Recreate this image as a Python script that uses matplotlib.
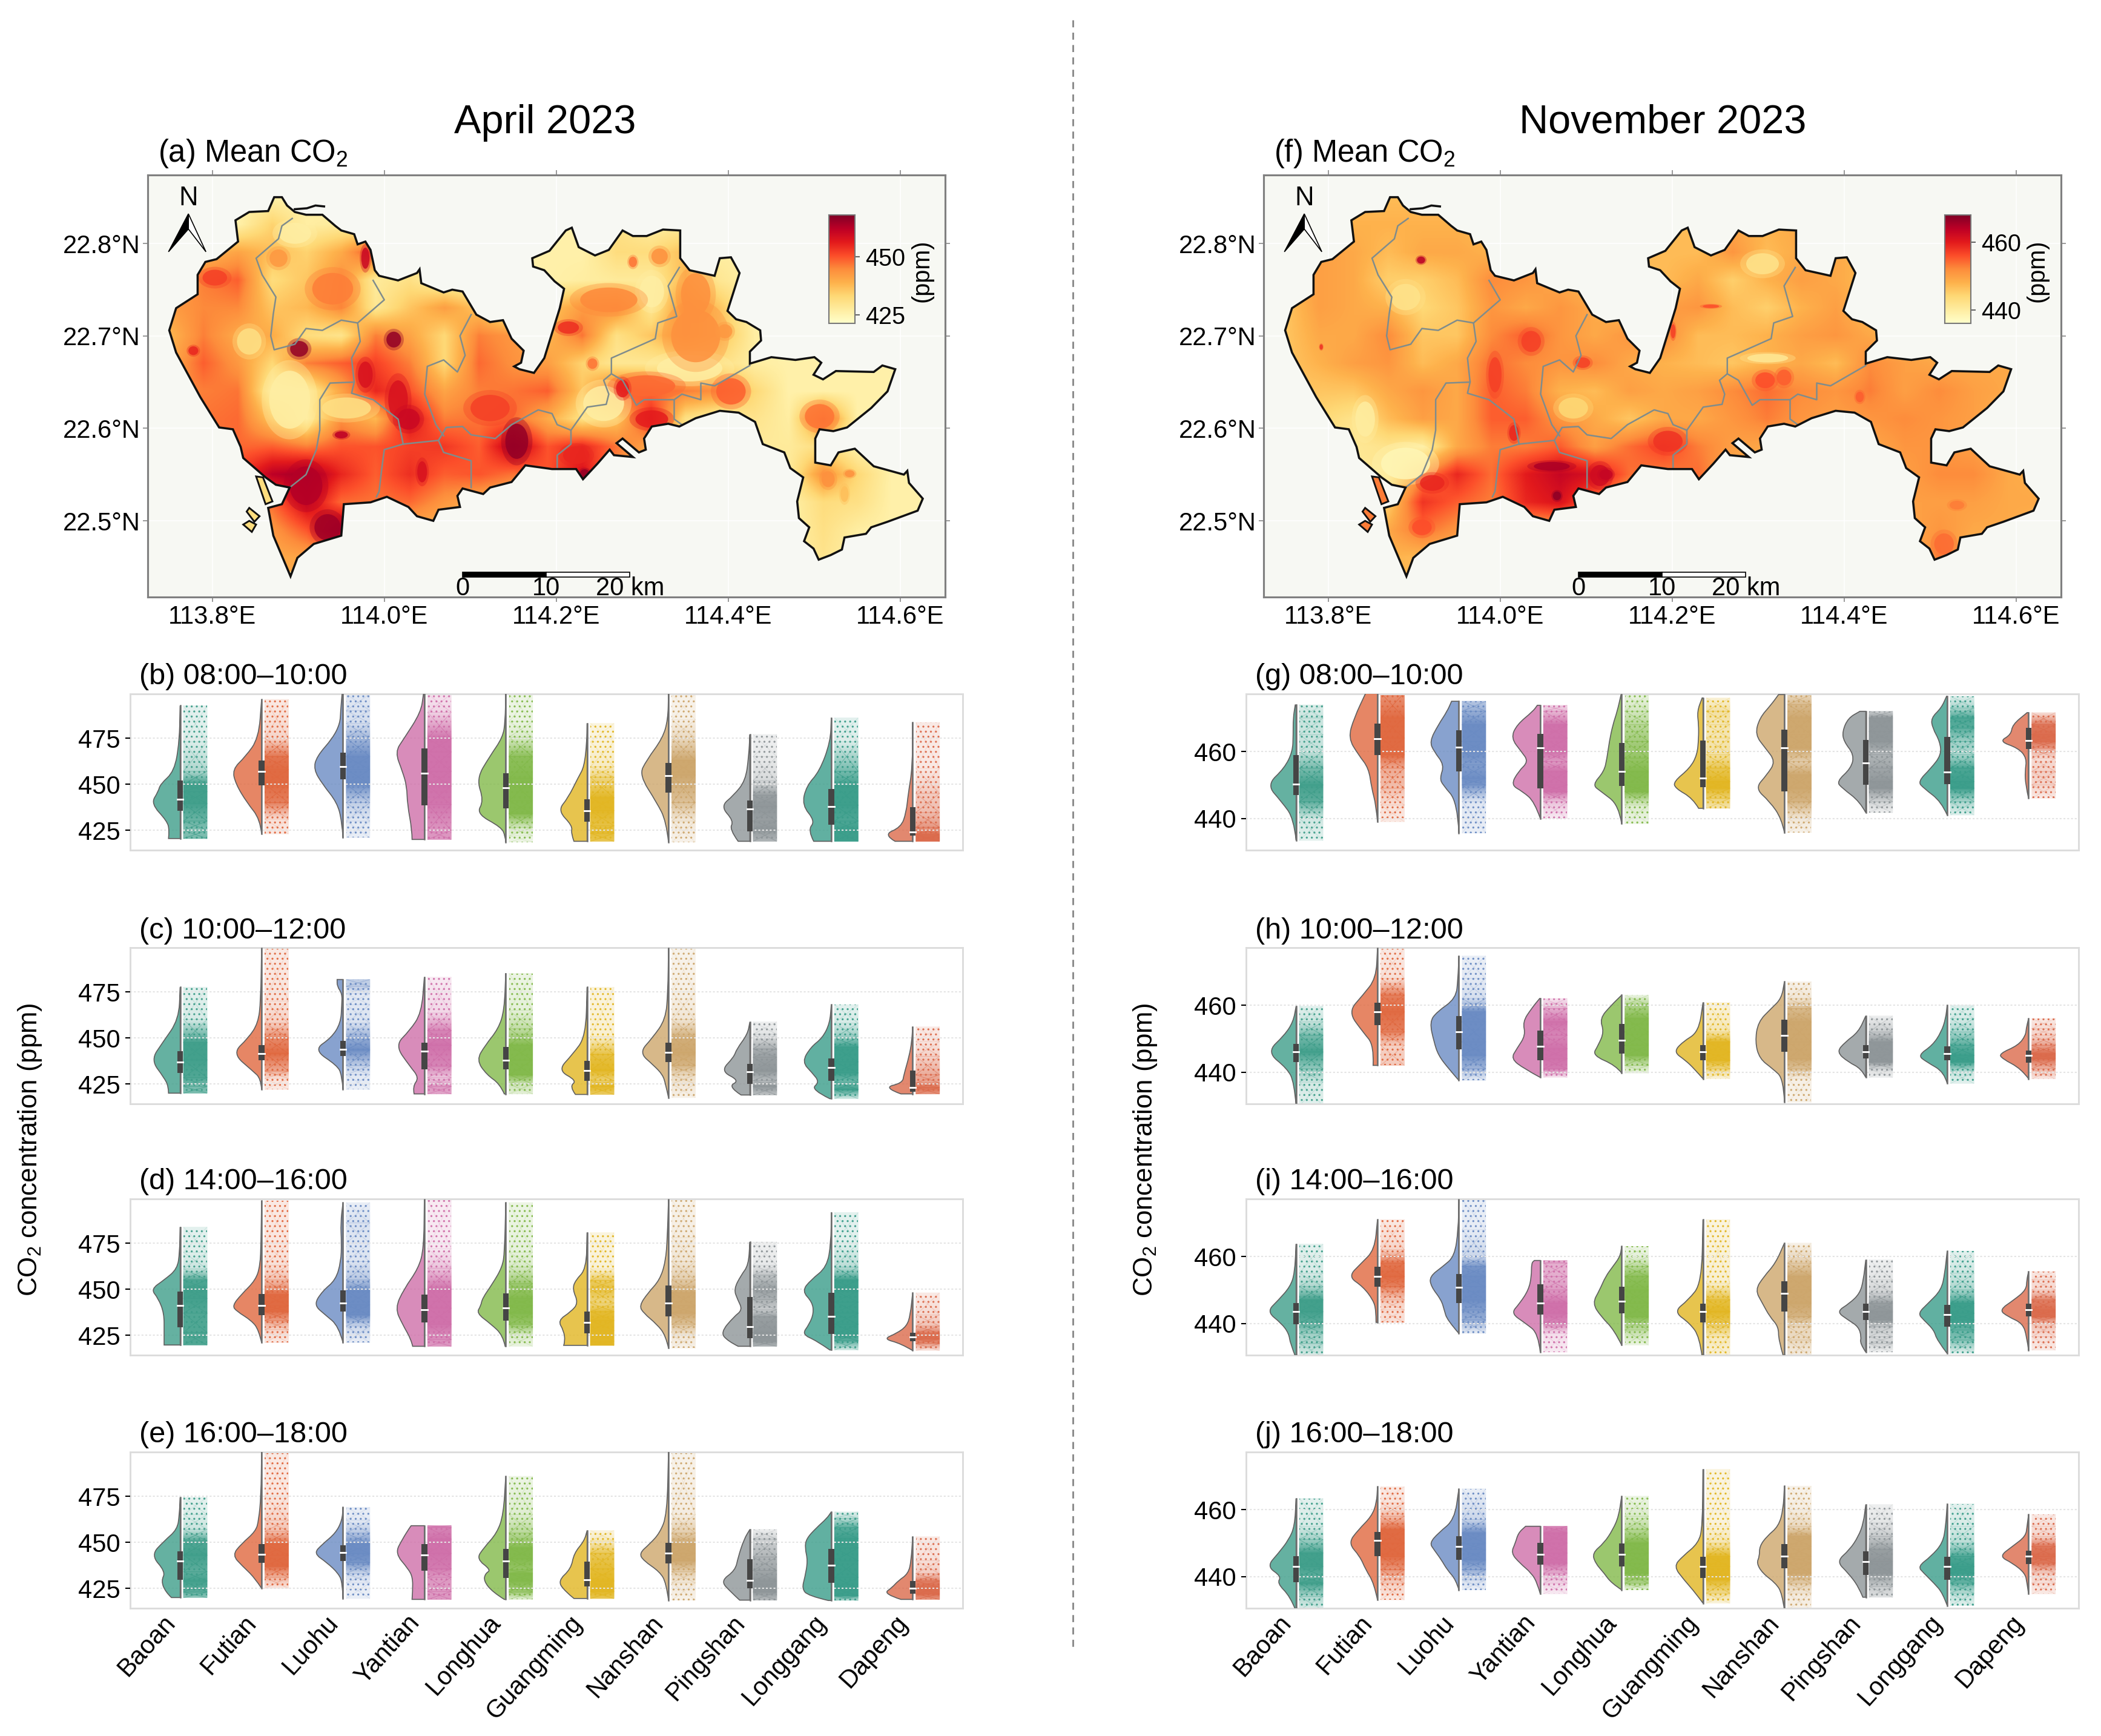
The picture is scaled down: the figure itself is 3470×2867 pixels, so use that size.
import numpy as np
import matplotlib
matplotlib.use('Agg')
import matplotlib.pyplot as plt
from matplotlib.colors import LinearSegmentedColormap, Normalize, to_rgba
from matplotlib.lines import Line2D
from matplotlib.patches import Ellipse, PathPatch, Polygon, Rectangle
from matplotlib.path import Path
from matplotlib.transforms import ScaledTranslation

plt.rcParams['font.family'] = ['Liberation Sans', 'DejaVu Sans']
plt.rcParams['mathtext.fontset'] = 'custom'
plt.rcParams['mathtext.rm'] = 'Liberation Sans'
plt.rcParams['mathtext.default'] = 'rm'
plt.rcParams['hatch.linewidth'] = 0.4

W, H = 3470, 2867

districts = ['Baoan', 'Futian', 'Luohu', 'Yantian', 'Longhua', 'Guangming',
             'Nanshan', 'Pingshan', 'Longgang', 'Dapeng']
district_colors = ['#3F9E8A', '#E0683F', '#6A8BC3', '#CF6FA9', '#82B94A',
                   '#E2B622', '#CDA66C', '#8E9598', '#3A9D8A', '#DB6A4B']

# Shenzhen outline, lon / lat
outline_lon = [113.872, 113.881, 113.887, 113.896, 113.909, 113.928, 113.943, 113.950, 113.965, 113.969, 113.978,
               113.984, 113.989, 113.994, 114.016, 114.038, 114.041, 114.043, 114.069, 114.079, 114.091, 114.107,
               114.123, 114.138, 114.148, 114.162, 114.159, 114.151, 114.157, 114.174, 114.186, 114.204, 114.209,
               114.198, 114.186, 114.173, 114.172, 114.192, 114.211, 114.218, 114.226, 114.245, 114.261, 114.277,
               114.289, 114.305, 114.324, 114.344, 114.344, 114.355, 114.384, 114.390, 114.403, 114.413, 114.399,
               114.409, 114.421, 114.437, 114.438, 114.425, 114.425, 114.450, 114.478, 114.500, 114.508, 114.499,
               114.510, 114.525, 114.569, 114.579, 114.594, 114.585, 114.566, 114.538, 114.522, 114.506, 114.501,
               114.501, 114.519, 114.528, 114.547, 114.569, 114.604, 114.608, 114.610, 114.626, 114.620, 114.585,
               114.566, 114.560, 114.535, 114.532, 114.519, 114.505, 114.499, 114.488, 114.494, 114.482, 114.480,
               114.487, 114.472, 114.465, 114.440, 114.431, 114.412, 114.390, 114.362, 114.343, 114.330, 114.311,
               114.302, 114.304, 114.296, 114.277, 114.270, 114.289, 114.267, 114.262, 114.248, 114.231, 114.223,
               114.195, 114.164, 114.148, 114.123, 114.115, 114.091, 114.085, 114.088, 114.063, 114.057, 114.038,
               114.028, 114.003, 113.984, 113.953, 113.950, 113.918, 113.899, 113.891, 113.871, 113.865, 113.881,
               113.890, 113.874, 113.862, 113.836, 113.833, 113.824, 113.808, 113.786, 113.758, 113.750, 113.758,
               113.783, 113.783, 113.792, 113.805, 113.830, 113.827, 113.843, 113.865]
outline_lat = [22.850, 22.850, 22.841, 22.834, 22.831, 22.831, 22.819, 22.814, 22.810, 22.799, 22.802,
               22.793, 22.771, 22.765, 22.760, 22.768, 22.772, 22.757, 22.747, 22.750, 22.748, 22.723,
               22.715, 22.717, 22.697, 22.684, 22.671, 22.667, 22.664, 22.660, 22.676, 22.730, 22.751,
               22.759, 22.771, 22.775, 22.784, 22.792, 22.814, 22.817, 22.796, 22.787, 22.793, 22.814,
               22.808, 22.808, 22.815, 22.814, 22.784, 22.771, 22.765, 22.784, 22.785, 22.768, 22.727,
               22.718, 22.715, 22.706, 22.695, 22.683, 22.670, 22.677, 22.674, 22.677, 22.671, 22.658,
               22.653, 22.662, 22.661, 22.668, 22.664, 22.640, 22.622, 22.601, 22.597, 22.599, 22.589,
               22.563, 22.560, 22.574, 22.578, 22.559, 22.550, 22.554, 22.541, 22.524, 22.511, 22.499,
               22.493, 22.486, 22.482, 22.469, 22.463, 22.458, 22.470, 22.478, 22.493, 22.503, 22.521,
               22.547, 22.557, 22.574, 22.583, 22.607, 22.617, 22.619, 22.611, 22.602, 22.605, 22.602,
               22.589, 22.577, 22.574, 22.589, 22.584, 22.569, 22.571, 22.577, 22.562, 22.545, 22.556,
               22.556, 22.560, 22.542, 22.536, 22.529, 22.535, 22.527, 22.515, 22.512, 22.500, 22.505,
               22.515, 22.526, 22.520, 22.518, 22.484, 22.475, 22.460, 22.440, 22.484, 22.514, 22.518,
               22.536, 22.539, 22.547, 22.568, 22.580, 22.599, 22.601, 22.634, 22.682, 22.706, 22.730,
               22.745, 22.766, 22.780, 22.783, 22.802, 22.825, 22.834, 22.835]

islands = [[(113.851, 22.548), (113.859, 22.547), (113.870, 22.521), (113.862, 22.518)],
           [(113.843, 22.514), (113.855, 22.505), (113.849, 22.499), (113.840, 22.510)],
           [(113.843, 22.500), (113.851, 22.496), (113.846, 22.488), (113.836, 22.496)]]
north_arc = [(113.896, 22.837), (113.910, 22.838), (113.920, 22.841), (113.930, 22.840)]

# district borders
borders = [
    [(113.893, 22.827), (113.881, 22.819), (113.877, 22.805), (113.851, 22.784), (113.858, 22.766), (113.874, 22.742),
     (113.871, 22.724), (113.868, 22.700), (113.872, 22.685), (113.896, 22.691), (113.909, 22.708), (113.928, 22.706),
     (113.950, 22.717), (113.969, 22.714), (114.000, 22.739), (113.987, 22.760)],
    [(113.969, 22.714), (113.972, 22.694), (113.962, 22.676), (113.965, 22.650), (113.937, 22.649), (113.925, 22.631),
     (113.925, 22.598), (113.921, 22.577), (113.909, 22.550), (113.890, 22.536)],
    [(113.965, 22.650), (113.962, 22.638), (113.987, 22.631), (114.016, 22.610), (114.022, 22.583)],
    [(114.022, 22.583), (114.063, 22.587), (114.069, 22.574), (114.101, 22.565), (114.101, 22.536)],
    [(114.022, 22.583), (114.000, 22.577), (113.997, 22.556), (113.994, 22.532), (113.991, 22.526)],
    [(114.063, 22.587), (114.072, 22.601), (114.091, 22.602), (114.101, 22.593), (114.129, 22.589), (114.148, 22.604),
     (114.179, 22.620), (114.195, 22.616), (114.201, 22.604), (114.217, 22.598), (114.217, 22.583), (114.201, 22.571),
     (114.201, 22.556)],
    [(114.101, 22.723), (114.088, 22.700), (114.094, 22.679), (114.085, 22.661), (114.069, 22.674), (114.050, 22.667),
     (114.047, 22.637), (114.060, 22.604), (114.069, 22.592)],
    [(114.217, 22.598), (114.236, 22.623), (114.258, 22.626), (114.261, 22.637), (114.255, 22.652), (114.264, 22.659),
     (114.264, 22.676), (114.286, 22.685), (114.315, 22.697), (114.318, 22.714), (114.340, 22.721), (114.330, 22.754),
     (114.343, 22.774)],
    [(114.264, 22.659), (114.277, 22.652), (114.293, 22.625), (114.302, 22.631), (114.337, 22.631), (114.337, 22.610),
     (114.346, 22.604)],
    [(114.337, 22.631), (114.346, 22.637), (114.368, 22.631), (114.368, 22.649), (114.384, 22.646), (114.425, 22.668)],
]

# coarse CO2 fields, 23 columns from 113.75E by 0.04, rows from 22.85N down by 0.03
april_grid = [
    [426, 426, 426, 426, 426, 426, 426, 426, 426, 426, 426, 426, 426, 426, 426, 426, 426, 426, 426, 426, 426, 426, 426],
    [426, 426, 426, 434, 427, 428, 426, 426, 426, 426, 426, 426, 426, 431, 427, 428, 426, 426, 426, 426, 426, 426, 426],
    [426, 438, 441, 437, 434, 440, 452, 428, 426, 426, 426, 426, 426, 432, 432, 437, 427, 426, 426, 426, 426, 426, 426],
    [441, 446, 449, 432, 436, 444, 428, 431, 426, 426, 426, 426, 427, 428, 428, 438, 429, 426, 426, 426, 426, 426, 426],
    [442, 445, 445, 436, 438, 445, 429, 436, 442, 436, 426, 436, 442, 444, 429, 444, 436, 426, 426, 426, 426, 426, 426],
    [438, 446, 440, 440, 432, 430, 446, 441, 433, 446, 443, 438, 447, 431, 436, 443, 437, 427, 426, 426, 426, 426, 426],
    [440, 449, 443, 433, 446, 449, 452, 446, 433, 448, 444, 442, 434, 429, 429, 430, 431, 427, 426, 426, 426, 426, 426],
    [444, 446, 447, 427, 428, 441, 455, 450, 441, 446, 447, 449, 436, 450, 448, 446, 444, 433, 426, 426, 426, 426, 426],
    [445, 447, 448, 436, 427, 444, 438, 458, 446, 447, 448, 440, 431, 436, 455, 431, 427, 430, 427, 447, 426, 426, 426],
    [446, 447, 448, 449, 446, 450, 450, 452, 453, 449, 462, 450, 455, 447, 440, 430, 428, 428, 428, 432, 426, 426, 426],
    [448, 448, 452, 462, 465, 455, 449, 454, 449, 450, 447, 450, 458, 444, 432, 428, 427, 427, 428, 444, 433, 426, 426],
    [446, 446, 448, 448, 460, 448, 447, 448, 443, 440, 438, 438, 438, 432, 428, 428, 427, 427, 426, 432, 431, 426, 426],
    [442, 442, 443, 443, 450, 465, 442, 440, 438, 438, 438, 438, 438, 432, 428, 428, 427, 427, 426, 431, 427, 426, 426],
    [440, 440, 440, 440, 441, 440, 438, 438, 438, 438, 438, 438, 438, 432, 428, 428, 427, 427, 426, 430, 426, 426, 426],
]
november_grid = [
    [447, 447, 447, 447, 447, 447, 447, 447, 447, 447, 447, 447, 447, 447, 447, 447, 447, 447, 447, 447, 447, 447, 447],
    [447, 447, 448, 448, 448, 448, 447, 447, 447, 447, 447, 447, 447, 449, 448, 449, 447, 447, 447, 447, 447, 447, 447],
    [447, 450, 449, 447, 449, 449, 448, 451, 447, 447, 447, 447, 447, 451, 447, 449, 449, 447, 447, 447, 447, 447, 447],
    [448, 450, 449, 445, 445, 447, 452, 451, 449, 447, 447, 447, 449, 445, 448, 450, 449, 447, 447, 447, 447, 447, 447],
    [446, 450, 449, 448, 444, 446, 451, 449, 451, 449, 447, 450, 451, 447, 445, 448, 450, 447, 447, 447, 447, 447, 447],
    [446, 449, 449, 452, 446, 446, 452, 455, 451, 449, 451, 452, 447, 447, 448, 450, 451, 449, 447, 447, 447, 447, 447],
    [446, 448, 450, 451, 447, 449, 454, 452, 451, 452, 449, 448, 447, 446, 448, 449, 447, 452, 450, 449, 449, 449, 447],
    [446, 446, 446, 449, 451, 449, 455, 453, 448, 447, 450, 449, 450, 452, 454, 452, 451, 453, 450, 452, 450, 449, 447],
    [444, 444, 442, 447, 450, 449, 455, 455, 451, 449, 446, 449, 449, 451, 453, 451, 450, 451, 452, 451, 450, 448, 447],
    [442, 442, 441, 442, 440, 449, 453, 453, 455, 450, 454, 457, 453, 450, 449, 449, 449, 449, 451, 451, 450, 449, 447],
    [441, 441, 441, 441, 452, 459, 454, 460, 463, 461, 454, 453, 454, 449, 449, 449, 449, 449, 450, 452, 452, 449, 448],
    [446, 446, 446, 445, 458, 455, 453, 459, 461, 454, 449, 449, 449, 449, 449, 449, 449, 449, 450, 450, 450, 449, 449],
    [449, 449, 449, 449, 454, 451, 449, 449, 449, 449, 449, 449, 449, 449, 449, 449, 449, 449, 449, 451, 449, 449, 447],
    [448, 448, 448, 448, 447, 447, 447, 447, 447, 447, 447, 447, 447, 447, 447, 447, 447, 447, 447, 453, 447, 447, 447],
]

# lon, lat, half width, half height, ppm
april_spots = [(113.890, 22.631, .025, .033, 427), (113.956, 22.622, .030, .012, 431), (114.255, 22.627, .025, .020, 427),
               (114.355, 22.665, .040, .015, 427), (114.311, 22.748, .015, .018, 427), (113.896, 22.811, .020, .012, 427),
               (113.843, 22.694, .015, .015, 431), (114.261, 22.739, .035, .014, 445), (114.362, 22.700, .030, .030, 444),
               (114.362, 22.745, .018, .024, 444), (114.320, 22.786, .010, .009, 444), (114.289, 22.780, .005, .006, 447),
               (114.305, 22.646, .035, .012, 448), (114.403, 22.640, .018, .015, 449), (114.396, 22.705, .009, .008, 443),
               (114.516, 22.545, .008, .009, 444), (114.541, 22.551, .006, .004, 444), (114.535, 22.529, .005, .009, 437),
               (114.242, 22.670, .006, .006, 447), (113.803, 22.763, .015, .009, 452), (113.778, 22.684, .006, .005, 455),
               (113.877, 22.784, .011, .010, 443), (113.940, 22.751, .025, .018, 446), (114.123, 22.622, .024, .015, 452),
               (113.901, 22.686, .011, .009, 466), (114.011, 22.696, .009, .009, 466), (114.154, 22.586, .014, .020, 466),
               (113.934, 22.493, .016, .015, 465), (113.909, 22.538, .020, .022, 463), (114.016, 22.631, .012, .022, 458),
               (113.978, 22.658, .009, .015, 458), (114.028, 22.610, .014, .012, 460), (114.506, 22.613, .018, .014, 447),
               (114.214, 22.709, .013, .007, 454), (113.978, 22.784, .005, .012, 460), (113.950, 22.593, .008, .004, 462),
               (114.277, 22.643, .008, .010, 456), (114.044, 22.553, .006, .012, 458), (114.223, 22.571, .016, .010, 455),
               (114.311, 22.610, .020, .010, 456), (114.233, 22.551, .006, .005, 466)]
november_spots = [(113.890, 22.562, .030, .018, 438), (113.843, 22.610, .012, .020, 440), (113.890, 22.742, .018, .015, 442),
                  (114.305, 22.778, .020, .012, 442), (114.311, 22.676, .025, .005, 441), (114.085, 22.622, .018, .012, 444),
                  (114.308, 22.652, .012, .009, 456), (114.330, 22.655, .009, .009, 455), (114.036, 22.694, .012, .012, 457),
                  (113.994, 22.658, .008, .020, 457), (114.016, 22.595, .006, .009, 459), (114.195, 22.586, .018, .012, 458),
                  (114.116, 22.549, .012, .012, 462), (113.921, 22.541, .015, .009, 459), (113.909, 22.493, .012, .009, 456),
                  (114.516, 22.475, .012, .012, 454), (114.418, 22.634, .005, .006, 455), (114.531, 22.517, .009, .005, 453),
                  (114.201, 22.705, .003, .008, 457), (114.245, 22.732, .010, .002, 456), (114.096, 22.671, .009, .006, 457),
                  (113.908, 22.782, .005, .004, 464), (114.060, 22.559, .022, .005, 465), (114.066, 22.527, .005, .005, 467),
                  (114.123, 22.550, .008, .006, 463), (113.792, 22.688, .002, .003, 458)]

# violin outlines per district: (ppm, relative width), boxes: (q1, median, q3)
violin_b = [
    [(420.5, .4), (425, .37), (430, .45), (439.5, 1), (446, .75), (450, .68), (457, .2), (473, .03), (492.6, 0)],
    [(423, 0), (431, .05), (440, .5), (450, .88), (458, 1), (465, .55), (475, .1), (496, 0)],
    [(421, 0), (430, .04), (440, .2), (450, .7), (458, 1), (465, .9), (475, .35), (483, .1), (490, .08), (499, .03)],
    [(420, .42), (425, .42), (439, .58), (449, .6), (457, .75), (467.5, 1), (474.7, .7), (489, .12), (499, .03)],
    [(418.6, 0), (422, .02), (426.6, .15), (434, 1), (441, .75), (453, 1), (465, .55), (475.5, .1), (484, .02), (499, 0)],
    [(419, .45), (423.4, .55), (427.4, .5), (435.7, 1), (442.6, .65), (453.8, .3), (459.5, .1), (473, .01), (483, 0)],
    [(418.6, 0), (430, .08), (440, .4), (455, 1), (463, .75), (475, .2), (485, .02), (499, 0)],
    [(419, .4), (425.5, .7), (430, .55), (438, 1), (444, .55), (452, .15), (465, .04), (477, 0)],
    [(419, .6), (425, .8), (430, .55), (438.6, 1), (449, .85), (457, .4), (473, .03), (486, 0)],
    [(419, .6), (422.6, 1), (426.6, .4), (434.6, .22), (445, .15), (458.6, .01), (483.5, 0)],
]
box_b = [(435.7, 441.8, 451.9), (449.5, 457, 462.7), (452.7, 459.5, 467), (438.6, 456, 469.5), (437, 448, 456),
         (429.5, 435.7, 441.8), (445.5, 454.6, 461.5), (424.5, 436.7, 441), (428, 438, 447.4), (422, 424.2, 437.5)]

violin_c = [
    [(420, .4), (423.6, .4), (428.4, .55), (438, 1), (447.5, .6), (460, .05), (477.5, 0)],
    [(422, 0), (428, .03), (432, .3), (441.6, 1), (450, .45), (458, .12), (470, .03), (498.6, 0)],
    [(422, 0), (430, .04), (435, .2), (443.5, 1), (450, .4), (458, .08), (468, .04), (474, .03), (478, .2), (481.7, .2)],
    [(419.6, .35), (423.6, .4), (428.4, .18), (434.7, .5), (446, 1), (454, .5), (463.5, .1), (483, 0)],
    [(419.6, .05), (425, .2), (430, .65), (438, 1), (446, .7), (455, .25), (465, .05), (485, 0)],
    [(419.3, .4), (423.6, .6), (426.8, .35), (432.4, 1), (441, .5), (450.7, .05), (477.5, 0)],
    [(417.6, 0), (425, .1), (430, .2), (435, .5), (442, 1), (450, .55), (460, .1), (475, .02), (498.6, 0)],
    [(419, .3), (423.6, .75), (426.8, .35), (432, 1), (439.5, .55), (444, .45), (452, .08), (458.7, 0)],
    [(417, .05), (422, .7), (426, .4), (431, .65), (437, 1), (445, .7), (450, .3), (458, .05), (468, 0)],
    [(419.6, .4), (423, 1), (425.5, .35), (430, .3), (440, .12), (448, .03), (456, 0)],
]
box_c = [(430.8, 437, 442.7), (438, 441.6, 446), (440.3, 443.8, 448.3), (433, 442.7, 447.5), (432.8, 438, 445),
         (426.8, 432.4, 437.5), (437, 442, 447.5), (425, 431.5, 436), (426.8, 434, 439), (420.7, 423, 432.3)]

violin_d = [
    [(419.7, .55), (426.5, .55), (437, .55), (445, .75), (450, 1), (455, .55), (461, .1), (470, .02), (483.7, 0)],
    [(421, 0), (428, .1), (433, .35), (438, .85), (441, 1), (447, .7), (455, .2), (463, .05), (475, .02), (498, 0)],
    [(421, 0), (430, .15), (436, .6), (441.5, 1), (449, .7), (455, .25), (465, .07), (475, .05), (486, .08), (497, 0)],
    [(419, .4), (422.7, .45), (431, .75), (439.7, 1), (450, .7), (461.4, .2), (472, .02), (498.6, 0)],
    [(419, .02), (425, .1), (431, .5), (437, 1), (441, .85), (445, .8), (453, .45), (462, .12), (470, .04), (497, 0)],
    [(419.5, .8), (421.8, .75), (427.5, .8), (433, 1), (437.8, .55), (442.5, .3), (450, .5), (454.8, .4), (461, .03), (480.7, 0)],
    [(418, 0), (425, .1), (431, .4), (437, .85), (441, 1), (448, .7), (455, .3), (465, .1), (478, .04), (498.6, 0)],
    [(419, .4), (421.8, .75), (426.5, 1), (435, .55), (438.8, .25), (444.4, .42), (450, .55), (457.6, .3), (463, .05), (475.6, 0)],
    [(417, .05), (422, .5), (425.5, 1), (431, .75), (437, .6), (443, .65), (449, 1), (455, .7), (462, .15), (475, .01), (491.6, 0)],
    [(416.7, 0), (420.5, .4), (423, 1), (426, .55), (430, .2), (436, .08), (448, 0)],
]
box_d = [(429.3, 441, 448.6), (436, 441, 447.3), (437.8, 442.5, 449.5), (431.8, 439, 447), (433, 439.7, 447.6),
         (426, 432, 438), (435.4, 442.5, 452), (423.3, 429.7, 445.6), (425.6, 435.4, 448), (421.8, 424, 426.5)]

violin_e = [
    [(420, .3), (423, .5), (429, .65), (434, .5), (443, 1), (450.7, .55), (457, .1), (465, .03), (474.4, 0)],
    [(425, 0), (431, .25), (437, .65), (443, 1), (449, .7), (456, .2), (462, .1), (475, .02), (499, 0)],
    [(419.5, 0), (428, .02), (433, .15), (439, .55), (444, 1), (449, .7), (455, .25), (462, .03), (469, 0)],
    [(419, .42), (423.3, .4), (431, .4), (435.6, .55), (444, 1), (451.7, .75), (458, .5), (459, .45)],
    [(419, .05), (423, .45), (429, .75), (433, .7), (435, .5), (441, 1), (447, .75), (455, .3), (465, .08), (485.8, 0)],
    [(419.5, .45), (423.3, .75), (429, 1), (435.6, .55), (444, .45), (450.7, .1), (456.4, 0)],
    [(418.6, 0), (428, .08), (434, .3), (440, .85), (444, 1), (449, .65), (455, .3), (465, .05), (499, 0)],
    [(418.6, .35), (423, .65), (429, 1), (434.7, .5), (442, .4), (451.7, .2), (457, 0)],
    [(418.4, .1), (421, .8), (425, 1), (431, .9), (440, .8), (447, .9), (452, .85), (458, .5), (463, .15), (466.5, 0)],
    [(419, .4), (422, 1), (425.5, .7), (429, .5), (433, .15), (440, .05), (453, 0)],
]
box_e = [(429.5, 439.8, 445), (439, 443.5, 449), (440, 444.5, 448.5), (434.7, 443, 449), (430.5, 439.8, 446.4),
         (426, 429.5, 439.4), (438.4, 444, 449.8), (425, 429.4, 440.7), (428, 437.5, 446.4), (422, 425, 429)]

violin_g = [
    [(433.4, 0), (440, .08), (445, .5), (450, 1), (455, .4), (460, .12), (465, .1), (470, .1), (473.9, .03)],
    [(439, 0), (444, .05), (449, .2), (455, .3), (459, .65), (464, 1), (470, .8), (477.5, .4)],
    [(435.6, 0), (445, .05), (450, .55), (452, .65), (456, .5), (460, .85), (463, 1), (468, .7), (472, .4), (475, .25)],
    [(440, 0), (445, .2), (448, .6), (450, 1), (454, .75), (457, .4), (460, .65), (464, 1), (468, .8), (472, .25), (473.8, .1)],
    [(438.4, 0), (444, .1), (448, .7), (450, 1), (454, .6), (458, .5), (463, .42), (468, .3), (472, .15), (477, .02)],
    [(443, .15), (446, .35), (449, .95), (451, 1), (455, .45), (459, .2), (464, .15), (468, .15), (472, .2), (476, .03)],
    [(435.8, 0), (440, .1), (445, .5), (449, 1), (453, .6), (457, .3), (461, .65), (465, 1), (470, .85), (474, .45), (477, .2)],
    [(441.7, 0), (445, .2), (449, .8), (451, 1), (455, .5), (459, .4), (463, .75), (466, .8), (470, .6), (472, .2)],
    [(441, 0), (445, .2), (449, .8), (451, 1), (455, .55), (459, .2), (463, .25), (467, .5), (470, .55), (473, .2), (476.5, .02)],
    [(446, 0), (450, .1), (454, .12), (458, .06), (461, .35), (463, 1), (465, .6), (468, .55), (471.6, .05)],
]
box_g = [(447, 450.3, 459), (459, 463.8, 468.4), (454, 461.3, 466.4), (449, 461, 465.3), (449.7, 454, 462.6),
         (449.4, 452, 463.3), (448, 461, 466.6), (450, 456.6, 463.5), (450.3, 453.8, 464.4), (460.7, 463.3, 467)]

violin_h = [
    [(430, 0), (437, .07), (441, .3), (446, 1), (451, .4), (455, .1), (459.7, 0)],
    [(442, .15), (448, .12), (452, .5), (458, 1), (463, .5), (468, .05), (477, 0)],
    [(437.5, 0), (441, .35), (445, .7), (449, .85), (455, 1), (458, .75), (462, .1), (468, .03), (474.7, 0)],
    [(438.4, 0), (441, .55), (444, 1), (447, .8), (451, .5), (455, .6), (459, .3), (462, .02)],
    [(439.7, 0), (442, .2), (445, 1), (448, .8), (452, .6), (456, .75), (460, .35), (463, 0)],
    [(438, 0), (441, .3), (443.5, .6), (446, 1), (449, .7), (452, .15), (460.8, 0)],
    [(431, 0), (438, .03), (441, .4), (444, .85), (449, 1), (455, .9), (459, .45), (462, .1), (467, 0)],
    [(438.4, 0), (441, .15), (443, .6), (446, 1), (449, .7), (452, .25), (456.8, 0)],
    [(436.6, 0), (440, .1), (443, .7), (445, 1), (448, .5), (452, .2), (456, .05), (460, 0)],
    [(438, 0), (441, .25), (444, .9), (445.5, 1), (448, .35), (451, .1), (453, .08), (456, 0)],
]
box_h = [(443, 446, 448.4), (454, 458, 460.8), (446.8, 452, 456.8), (443.5, 447.7, 452.4), (445.5, 449.5, 454.4),
         (443.6, 446, 448), (446, 451, 455.7), (444, 446, 448), (443.6, 445.5, 447.7), (442.8, 445, 446.4)]

violin_i = [
    [(430, .02), (434, .2), (437, .25), (440, .5), (443.5, 1), (447, .6), (451, .2), (455, .05), (463.7, 0)],
    [(440.3, .05), (444, .05), (447, .15), (451, .5), (454, 1), (458, .55), (462, .1), (471, 0)],
    [(437, 0), (441, .4), (444, .5), (447, .6), (451, .95), (454, 1), (457, .55), (460, .15), (468, .02), (477, 0)],
    [(431.4, 0), (437, .07), (440, .5), (443, 1), (446, .7), (450, .4), (454, .3), (458, .3), (458.8, .2)],
    [(433.5, 0), (438, .25), (442, .7), (446, 1), (450, .75), (454, .55), (457, .3), (460, .05), (463, 0)],
    [(430, .03), (436, .12), (440, .45), (443.5, 1), (447, .5), (452, .05), (471, 0)],
    [(430, .03), (435, .2), (439, .2), (442, .5), (446, .75), (450, 1), (454, .7), (458, .3), (464, 0)],
    [(431.4, 0), (434, .2), (436, .15), (439, .25), (441, .6), (443.5, 1), (446, .55), (449, .2), (453, .08), (459, 0)],
    [(431, 0), (435, .35), (438, .45), (441, .8), (443, 1), (446, .65), (450, .2), (455, .08), (461.6, 0)],
    [(432, 0), (436, .06), (440, .2), (442, .7), (444, 1), (447, .5), (450, .08), (453, .06), (455.5, 0)],
]
box_i = [(439.8, 443.5, 446), (451, 454, 457), (446, 450.8, 454.7), (442.6, 446, 451.6), (443, 446.6, 451),
         (440.3, 443.5, 445.8), (443.5, 449, 452.5), (441, 443.5, 445.8), (439, 442.6, 445.5), (442, 444, 445.8)]

violin_j = [
    [(430, .02), (434, .2), (438, .65), (440, .5), (443, 1), (447, .6), (451, .25), (455, .05), (463.3, 0)],
    [(433, 0), (438, .12), (442, .4), (446, .6), (450, 1), (454, .65), (458, .2), (462, .03), (466.8, 0)],
    [(436, 0), (439, .1), (442, .4), (445, .6), (448, .85), (450, 1), (453, .7), (457, .15), (466.2, 0)],
    [(434.8, 0), (438, .1), (441, .3), (444, .7), (447, 1), (450, .85), (453, .75), (455, .5)],
    [(436, 0), (438, .35), (441, .6), (444, .9), (447, 1), (450, .6), (454, .3), (458, .1), (464, 0)],
    [(432, 0), (435, .25), (439, .65), (443, 1), (446, .7), (450, .15), (455, .02), (472, 0)],
    [(430, 0), (435, .08), (438, .3), (441, .75), (444, .95), (446, .85), (449, .85), (452, .6), (455, .2), (460, .04), (467, 0)],
    [(433.8, .1), (437, .25), (441, .6), (444.5, 1), (448, .55), (452, .25), (456, .08), (461.5, 0)],
    [(431.3, 0), (435, .15), (438, .45), (441, .8), (443, 1), (446, .55), (450, .15), (455, .05), (461.7, 0)],
    [(434.8, 0), (438, .05), (441, .12), (444, .55), (446, 1), (449, .55), (452, .1), (455, .05), (458.5, 0)],
]
box_j = [(438.2, 443, 446), (446, 450.7, 453.3), (445, 449, 452), (443.5, 446.7, 450), (443, 446.7, 449.8),
         (439.6, 443, 445.8), (442.4, 446, 449.6), (440.5, 444.5, 447.5), (439, 443, 445.8), (443.7, 446, 447.7)]

grid_lon0, grid_lat0, grid_dlon, grid_dlat = 113.75, 22.85, 0.04, 0.03


def axes_box(l, t, r, b):
    return [l / W, 1 - b / H, (r - l) / W, (b - t) / H]


def put_text(x, y, s, **kw):
    fig.text(x / W, 1 - y / H, s, **kw)


def draw_map(left, grid, spots, vmin, vmax, cticks):
    ax = fig.add_axes(axes_box(left, 289, left + 1317, 986))
    ax.set_facecolor('#F7F8F3')
    norm = Normalize(vmin, vmax)
    cmap = plt.get_cmap('YlOrRd')

    outline = np.column_stack([outline_lon, outline_lat])
    base = grid[-1][-1]
    land = Polygon(outline, closed=True, facecolor=cmap(norm(base)), edgecolor='none', zorder=1)
    ax.add_patch(land)
    ext = [grid_lon0 - grid_dlon / 2, grid_lon0 + grid_dlon * 22.5,
           grid_lat0 - grid_dlat * 13.5, grid_lat0 + grid_dlat / 2]
    im = ax.imshow(grid, cmap=cmap, norm=norm, extent=ext, interpolation='bilinear', aspect='auto', zorder=2)
    im.set_clip_path(land)
    # soft halo first, then the core of each patch
    for lon, lat, rx, ry, val in spots:
        for scale, alpha in [(1.3, 0.35), (0.95, 0.85)]:
            e = Ellipse((lon, lat), 2 * rx * scale, 2 * ry * scale, facecolor=cmap(norm(val)), edgecolor='none',
                        alpha=alpha, zorder=3)
            ax.add_patch(e)
            e.set_clip_path(land)

    for isl in islands:
        ax.add_patch(Polygon(isl, closed=True, facecolor=cmap(norm(base + 6)), edgecolor='#111111', linewidth=0.7, zorder=4))
    for seg in borders:
        seg = np.array(seg)
        ax.plot(seg[:, 0], seg[:, 1], color='#7f8c8c', linewidth=0.6, zorder=5)
    ax.add_patch(Polygon(outline, closed=True, facecolor='none', edgecolor='#111111', linewidth=0.85, zorder=6))
    arc = np.array(north_arc)
    ax.plot(arc[:, 0], arc[:, 1], color='#111111', linewidth=0.85, zorder=6)

    ax.set_xlim(113.725, 114.652)
    ax.set_ylim(22.4176, 22.874)
    ax.set_xticks([113.8, 114.0, 114.2, 114.4, 114.6])
    ax.set_xticklabels(['113.8°E', '114.0°E', '114.2°E', '114.4°E', '114.6°E'], fontsize=10)
    ax.set_yticks([22.5, 22.6, 22.7, 22.8])
    ax.set_yticklabels(['22.5°N', '22.6°N', '22.7°N', '22.8°N'], fontsize=10)
    ax.tick_params(top=True, right=True, length=2, width=0.4, color='#888888', pad=1)
    ax.grid(color='white', linewidth=0.4)
    ax.set_axisbelow(True)
    for s in ax.spines.values():
        s.set_color('#808080')
        s.set_linewidth(0.75)

    # north arrow
    t = ax.transAxes
    ax.add_patch(Polygon([(0.051, 0.908), (0.026, 0.818), (0.051, 0.872)], closed=True, transform=t,
                         facecolor='black', edgecolor='black', linewidth=0.4, zorder=7))
    ax.add_patch(Polygon([(0.051, 0.908), (0.073, 0.818), (0.051, 0.872)], closed=True, transform=t,
                         facecolor='white', edgecolor='black', linewidth=0.4, zorder=7))
    ax.text(0.051, 0.945, 'N', transform=t, ha='center', va='center', fontsize=10.5, zorder=7)

    # scale bar
    ax.add_patch(Rectangle((114.091, 22.4392), 0.097, 0.0053, facecolor='black', edgecolor='black', linewidth=0.4, zorder=7))
    ax.add_patch(Rectangle((114.188, 22.4392), 0.097, 0.0053, facecolor='white', edgecolor='black', linewidth=0.4, zorder=7))
    for lon, s, ha in [(114.091, '0', 'center'), (114.188, '10', 'center'), (114.246, '20 km', 'left')]:
        ax.text(lon, 22.4265, s, ha=ha, va='center', fontsize=10, zorder=7)

    # colourbar
    cax = fig.add_axes(axes_box(left + 1125, 355, left + 1168, 534))
    cax.imshow(np.linspace(1, 0, 256)[:, None], cmap=cmap, aspect='auto', extent=[0, 1, vmin, vmax])
    cax.set_xticks([])
    cax.yaxis.tick_right()
    cax.set_yticks(cticks)
    cax.tick_params(length=2, width=0.5, color='#666666', labelsize=9.5, pad=2)
    for s in cax.spines.values():
        s.set_color('#777777')
        s.set_linewidth(0.5)
    put_text(left + 1278, 447, '(ppm)', rotation=90, ha='center', va='center', fontsize=9.5)
    return ax


def draw_cloud(ax, x, knots, color):
    ys = [k[0] for k in knots]
    ws = [k[1] for k in knots]
    shade = LinearSegmentedColormap.from_list('cloud', [to_rgba(color, 0.14), to_rgba(color, 0.98)])
    xx = np.array([[x + 0.04, x + 0.33]] * len(ys))
    yy = np.array([[y, y] for y in ys])
    cc = np.array([[w, w] for w in ws])
    ax.pcolormesh(xx, yy, cc, shading='gouraud', cmap=shade, vmin=0, vmax=0.6, zorder=2)
    ax.add_patch(Rectangle((x + 0.04, ys[0]), 0.29, ys[-1] - ys[0], facecolor='none',
                           edgecolor=to_rgba(color, 0.9), hatch='......', linewidth=0, zorder=2))


def draw_violin(ax, x, knots, color):
    half = 0.36
    pts = [(x - w * half, y) for y, w in knots]
    verts = [(x, knots[0][0]), pts[0]]
    codes = [Path.MOVETO, Path.LINETO]
    for i in range(1, len(pts) - 1):
        mid = ((pts[i][0] + pts[i + 1][0]) / 2, (pts[i][1] + pts[i + 1][1]) / 2)
        verts += [pts[i], mid]
        codes += [Path.CURVE3, Path.CURVE3]
    verts += [pts[-1], (x, knots[-1][0]), (x, knots[0][0])]
    codes += [Path.LINETO, Path.LINETO, Path.CLOSEPOLY]
    ax.add_patch(PathPatch(Path(verts, codes), facecolor=to_rgba(color, 0.8), edgecolor='#5f5f5f', linewidth=0.4, zorder=3))


def draw_panel(left, top, violins, boxes, ylim, yticks, title, last=False):
    ax = fig.add_axes(axes_box(left, top, left + 1375, top + 258))
    for i, (knots, stats) in enumerate(zip(violins, boxes)):
        color = district_colors[i]
        draw_cloud(ax, i, knots, color)
        draw_violin(ax, i, knots, color)
        ax.plot([i, i], [knots[0][0], knots[-1][0]], color='#6e6e6e', linewidth=0.6, zorder=4)
        q1, med, q3 = stats
        ax.add_patch(Rectangle((i - 0.035, q1), 0.07, q3 - q1, facecolor='#454545', edgecolor='none', zorder=5))
        ax.plot([i - 0.035, i + 0.035], [med, med], color='white', linewidth=0.7, zorder=6)
    ax.set_xlim(-0.615, 9.615)
    ax.set_ylim(*ylim)
    ax.set_yticks(yticks)
    ax.yaxis.grid(True, color='#e4e4e4', linewidth=0.5, linestyle=(0, (1.5, 1.5)))
    ax.set_axisbelow(False)
    ax.tick_params(axis='y', length=2, width=0.5, labelsize=10, pad=2)
    if last:
        ax.set_xticks(range(10))
        ax.set_xticklabels(districts, rotation=48, ha='right', va='top', rotation_mode='anchor', fontsize=10)
        ax.tick_params(axis='x', length=0, pad=1)
        for lab in ax.get_xticklabels():
            lab.set_transform(lab.get_transform() + ScaledTranslation(-30 / 300, 0, fig.dpi_scale_trans))
    else:
        ax.set_xticks([])
    for s in ax.spines.values():
        s.set_color('#dcdcdc')
        s.set_linewidth(0.7)
    put_text(left + 15, top - 28, title, ha='left', va='center', fontsize=11.7)
    return ax


fig = plt.figure(figsize=(W / 300, H / 300), dpi=300, facecolor='white')

panel_tops = [1146, 1565, 1980, 2398]
draw_map(244, april_grid, april_spots, 421.4, 468, [425, 450])
draw_map(2087, november_grid, november_spots, 436, 468, [440, 460])

left_panels = [(violin_b, box_b, '(b) 08:00–10:00'), (violin_c, box_c, '(c) 10:00–12:00'),
               (violin_d, box_d, '(d) 14:00–16:00'), (violin_e, box_e, '(e) 16:00–18:00')]
right_panels = [(violin_g, box_g, '(g) 08:00–10:00'), (violin_h, box_h, '(h) 10:00–12:00'),
                (violin_i, box_i, '(i) 14:00–16:00'), (violin_j, box_j, '(j) 16:00–18:00')]
for k, (v, b, t) in enumerate(left_panels):
    draw_panel(215, panel_tops[k], v, b, (414.2, 499), [425, 450, 475], t, last=k == 3)
for k, (v, b, t) in enumerate(right_panels):
    draw_panel(2058, panel_tops[k], v, b, (430.5, 477.2), [440, 460], t, last=k == 3)

put_text(900, 203, 'April 2023', ha='center', va='center', fontsize=16)
put_text(2746, 203, 'November 2023', ha='center', va='center', fontsize=16)
put_text(261, 254, '(a) Mean CO$_2$', ha='left', va='center', fontsize=12.2)
put_text(2104, 254, '(f) Mean CO$_2$', ha='left', va='center', fontsize=12.2)
put_text(50, 1899, 'CO$_2$ concentration (ppm)', rotation=90, ha='center', va='center', fontsize=10.5)
put_text(1892, 1899, 'CO$_2$ concentration (ppm)', rotation=90, ha='center', va='center', fontsize=10.5)

fig.add_artist(Line2D([1772 / W, 1772 / W], [1 - 33 / H, 1 - 2722 / H], color='#8a8a8a', linewidth=0.7,
                      linestyle=(0, (4, 3))))

fig.savefig('out.png', dpi=300)
